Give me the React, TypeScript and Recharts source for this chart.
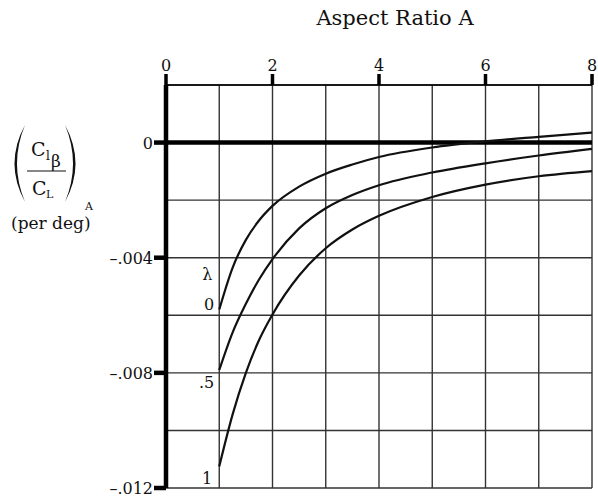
import React from 'react';
import { LineChart, Line, XAxis, YAxis, CartesianGrid, ReferenceLine, LabelList } from 'recharts';

// Aspect ratio stations and rolling-moment derivative per taper ratio λ
const aspectRatio = [1, 1.25, 1.5, 1.75, 2, 2.5, 3, 3.5, 4, 5, 6, 7, 8];
const taper0 = [-0.0058, -0.00435, -0.00338, -0.0027, -0.0022, -0.00153, -0.00108, -0.00076, -0.0005, -0.00017, 0.00004, 0.0002, 0.00035];
const taperHalf = [-0.0079, -0.0066, -0.0056, -0.00475, -0.00405, -0.00298, -0.00228, -0.00182, -0.00148, -0.00104, -0.00072, -0.00045, -0.00022];
const taper1 = [-0.01125, -0.00945, -0.008, -0.00685, -0.00597, -0.00462, -0.00367, -0.00302, -0.002545, -0.00189, -0.00146, -0.00117, -0.00099];

const taperNames = ['0', '.5', '1'];

// Axis ticks (grid every step), labelled subsets
const xTicks = [0, 1, 2, 3, 4, 5, 6, 7, 8];
const xLabelled = [0, 2, 4, 6, 8];
const yTicks = [0.002, 0, -0.002, -0.004, -0.006, -0.008, -0.01, -0.012];
const yLabelled = [0, -0.004, -0.008, -0.012];
const yLabelText = ['0', '\u2013.004', '\u2013.008', '\u2013.012'];

const data = aspectRatio.map((A, i) => ({ A, t0: taper0[i], tHalf: taperHalf[i], t1: taper1[i] }));

const SERIF = '"DejaVu Serif", "Liberation Serif", serif';

const TopTick = (props: any) => {
  const { x, y, payload } = props;
  const v = payload.value;
  if (!xLabelled.includes(v)) return <g />;
  return (
    <g>
      <rect x={x - 1.75} y={y - 11} width={3.5} height={11} fill="#000" />
      <text x={x} y={y - 14} textAnchor="middle" fontFamily={SERIF} fontSize={16} fill="#111">
        {v}
      </text>
    </g>
  );
};

const LeftTick = (props: any) => {
  const { x, y, payload } = props;
  const v = payload.value;
  const idx = yLabelled.findIndex((l) => Math.abs(l - v) < 1e-9);
  if (idx < 0) return <g />;
  return (
    <g>
      <rect x={x - 12} y={y - 2.25} width={12} height={4.5} fill="#000" />
      <text x={x - 13} y={y + 6} textAnchor="end" fontFamily={SERIF} fontSize={16} fill="#111">
        {yLabelText[idx]}
      </text>
    </g>
  );
};

// Curve name written at the start of each curve
const startLabel = (text: string, dx: number, dy: number, withLambda: boolean) => (props: any) => {
  if (props.index !== 0) return null;
  const { x, y } = props;
  return (
    <g fontFamily={SERIF} fontSize={16} fill="#111">
      {withLambda && (
        <text x={x - 12} y={y - 30} textAnchor="middle">
          λ
        </text>
      )}
      <text x={x + dx} y={y + dy} textAnchor="end">
        {text}
      </text>
    </g>
  );
};

export default function App() {
  return (
    <div style={{ position: 'absolute', left: 0, top: 0, width: 598, height: 497, background: '#fff' }}>
      <LineChart
        width={598}
        height={497}
        data={data}
        margin={{ top: 55, right: 6, bottom: 9, left: 106 }}
      >
        <CartesianGrid stroke="#333" strokeWidth={1.4} />
        <XAxis
          dataKey="A"
          type="number"
          orientation="top"
          domain={[0, 8]}
          ticks={xTicks}
          height={30}
          tickSize={0}
          tickMargin={0}
          tickLine={false}
          axisLine={{ stroke: '#000', strokeWidth: 1.5 }}
          tick={<TopTick />}
          interval={0}
        />
        <YAxis
          type="number"
          domain={[-0.012, 0.002]}
          ticks={yTicks}
          width={60}
          tickSize={0}
          tickMargin={0}
          tickLine={false}
          axisLine={{ stroke: '#000', strokeWidth: 4.5 }}
          tick={<LeftTick />}
          interval={0}
          allowDataOverflow
        />
        <ReferenceLine y={0} stroke="#000" strokeWidth={4.5} />
        <Line type="monotone" dataKey="t0" stroke="#111" strokeWidth={2.2} dot={false} isAnimationActive={false}>
          <LabelList dataKey="t0" content={startLabel(taperNames[0], -5, 0, true)} />
        </Line>
        <Line type="monotone" dataKey="tHalf" stroke="#111" strokeWidth={2.2} dot={false} isAnimationActive={false}>
          <LabelList dataKey="tHalf" content={startLabel(taperNames[1], -5, 18, false)} />
        </Line>
        <Line type="monotone" dataKey="t1" stroke="#111" strokeWidth={2.2} dot={false} isAnimationActive={false}>
          <LabelList dataKey="t1" content={startLabel(taperNames[2], -7, 18, false)} />
        </Line>
      </LineChart>

      <div
        style={{
          position: 'absolute',
          left: 0,
          top: 6,
          width: 598,
          textAlign: 'center',
          paddingLeft: 192,
          boxSizing: 'border-box',
          fontFamily: SERIF,
          fontSize: 21,
          color: '#111',
        }}
      >
        Aspect Ratio A
      </div>

      <svg
        width={160}
        height={250}
        style={{ position: 'absolute', left: 0, top: 0, pointerEvents: 'none' }}
        fontFamily={SERIF}
        fill="#111"
      >
        {/* large delimiters around the ratio */}
        <path d="M25,125 Q4,163.5 25,202 Q9,163.5 25,125 Z" />
        <path d="M65,125 Q86,163.5 65,202 Q81,163.5 65,125 Z" />
        <text x={31} y={156} fontSize={19}>C</text>
        <text x={46} y={160} fontSize={12}>l</text>
        <text x={51} y={167} fontSize={17}>β</text>
        <line x1={27} y1={171} x2={66} y2={171} stroke="#111" strokeWidth={1.2} />
        <text x={32} y={195} fontSize={19}>C</text>
        <text x={46} y={198} fontSize={11}>L</text>
        <text x={85} y={210} fontSize={11}>A</text>
        <text x={11} y={229} fontSize={17}>(per deg)</text>
      </svg>
    </div>
  );
}
